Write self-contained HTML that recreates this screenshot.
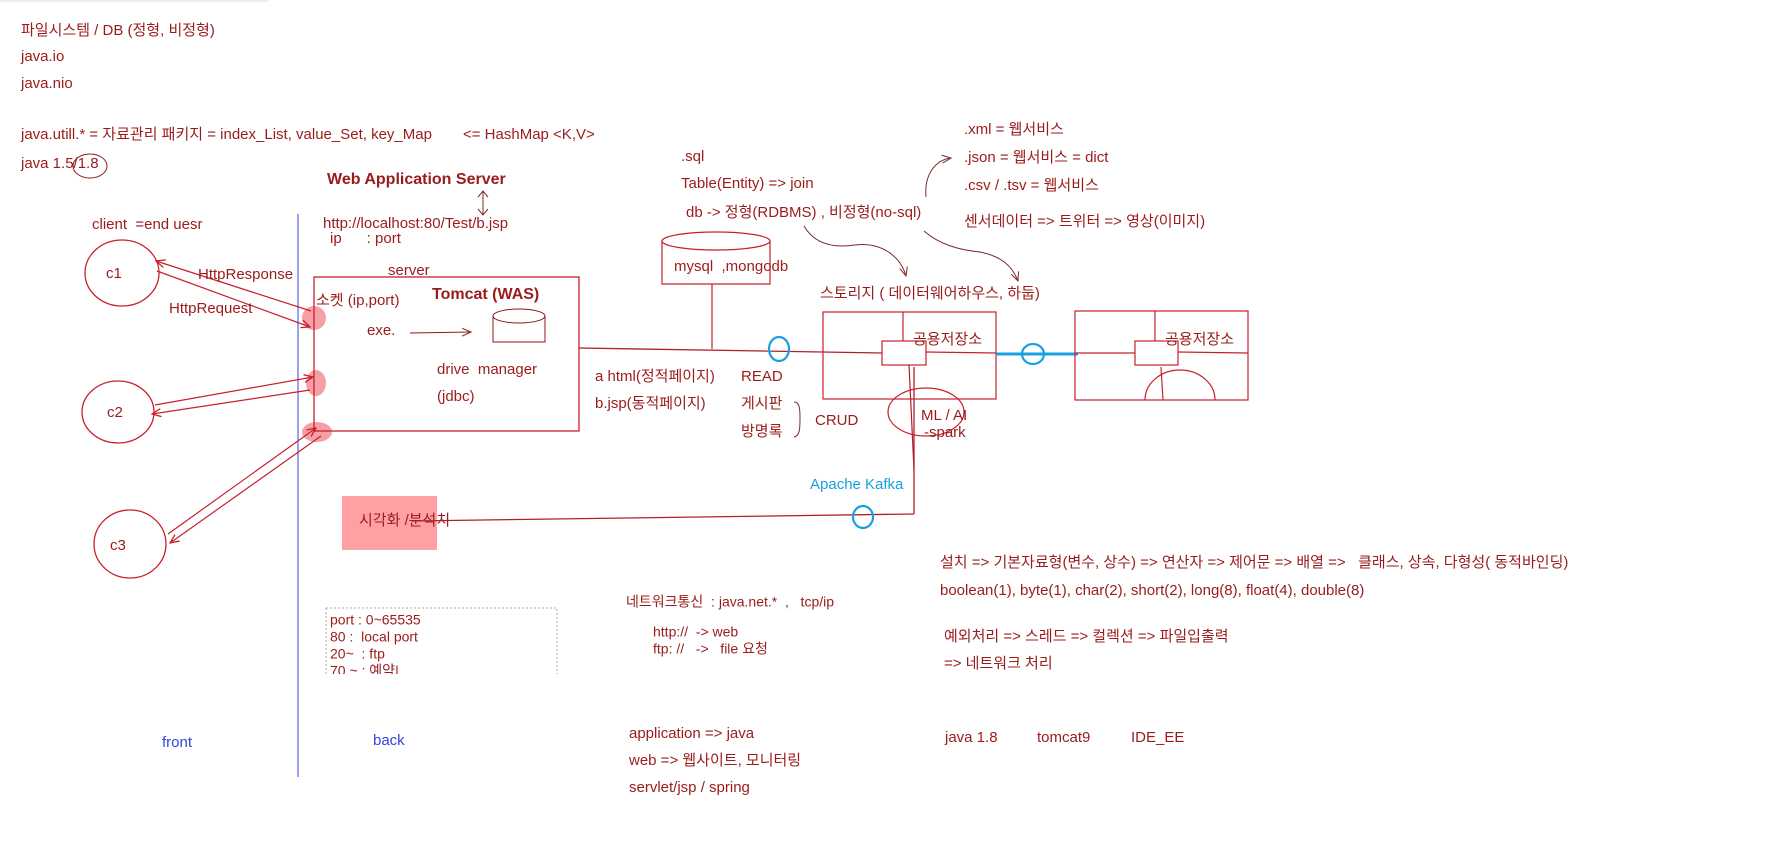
<!DOCTYPE html>
<html><head><meta charset="utf-8"><style>
html,body{margin:0;padding:0;background:#fff;}
svg{display:block;}
text{font-family:"Liberation Sans","Noto Sans CJK KR","NanumGothic",sans-serif;font-size:15px;fill:#9a1b1b;dominant-baseline:middle;}
</style></head><body>
<svg width="1778" height="864" viewBox="0 0 1778 864" xmlns="http://www.w3.org/2000/svg">
<defs>
<marker id="ah" markerWidth="10" markerHeight="10" refX="9" refY="5" orient="auto" markerUnits="userSpaceOnUse"><path d="M0,1 L9,5 L0,9" fill="none" stroke="#c8202a" stroke-width="1.3"/></marker>
<marker id="ah2" markerWidth="10" markerHeight="10" refX="9" refY="5" orient="auto" markerUnits="userSpaceOnUse"><path d="M0,1 L9,5 L0,9" fill="none" stroke="#7a2a2a" stroke-width="1"/></marker>
</defs>
<line x1="0" y1="1" x2="268" y2="1" stroke="#ddd" stroke-width="1"/>
<!-- top left text -->
<text x="21" y="31">파일시스템 / DB (정형, 비정형)</text>
<text x="21" y="57">java.io</text>
<text x="21" y="84">java.nio</text>
<text x="21" y="135">java.utill.* = 자료관리 패키지 = index_List, value_Set, key_Map</text>
<text x="463" y="135">&lt;= HashMap &lt;K,V&gt;</text>
<text x="21" y="164">java 1.5/1.8</text>
<ellipse cx="90" cy="166" rx="17" ry="12" fill="none" stroke="#8a1a1a" stroke-width="1"/>
<text x="327" y="180" style="font-weight:bold;font-size:16px">Web Application Server</text>
<path d="M483,192 L483,214 M478,197 L483,191 L488,197 M478,209 L483,215 L488,209" fill="none" stroke="#7a2a2a" stroke-width="1"/>
<text x="323" y="224">http://localhost:80/Test/b.jsp</text>
<text x="330" y="239">ip&#160;&#160;&#160;&#160;&#160;&#160;: port</text>
<text x="92" y="225">client&#160;&#160;=end uesr</text>
<!-- blue divider -->
<line x1="298" y1="214" x2="298" y2="777" stroke="#3344dd" stroke-width="1"/>
<text x="162" y="743" style="fill:#3344dd">front</text>
<text x="373" y="741" style="fill:#3344dd">back</text>
<!-- clients -->
<ellipse cx="122" cy="273" rx="37" ry="33" fill="none" stroke="#c8202a" stroke-width="1.3"/>
<text x="106" y="274">c1</text>
<ellipse cx="118" cy="412" rx="36" ry="31" fill="none" stroke="#c8202a" stroke-width="1.3"/>
<text x="107" y="413">c2</text>
<ellipse cx="130" cy="544" rx="36" ry="34" fill="none" stroke="#c8202a" stroke-width="1.3"/>
<text x="110" y="546">c3</text>
<!-- sockets -->
<ellipse cx="314" cy="318" rx="12" ry="12" fill="#f5a0a6"/>
<ellipse cx="316" cy="383" rx="10" ry="13" fill="#f5a0a6"/>
<ellipse cx="317" cy="432" rx="15" ry="10" fill="#f5a0a6"/>
<!-- Tomcat box -->
<rect x="314" y="277" width="265" height="154" fill="none" stroke="#c8202a" stroke-width="1.3"/>
<text x="388" y="271">server</text>
<text x="316" y="301">소켓 (ip,port)</text>
<text x="432" y="295" style="font-weight:bold;font-size:16px">Tomcat (WAS)</text>
<text x="367" y="331">exe.</text>
<line x1="410" y1="333" x2="471" y2="332" stroke="#8a1a1a" stroke-width="1" marker-end="url(#ah2)"/>
<path d="M493,316 L493,342 L545,342 L545,316" fill="none" stroke="#8a1a1a" stroke-width="1"/>
<ellipse cx="519" cy="316" rx="26" ry="7" fill="none" stroke="#8a1a1a" stroke-width="1"/>
<text x="437" y="370">drive&#160;&#160;manager</text>
<text x="437" y="397">(jdbc)</text>
<!-- client arrows -->
<line x1="311" y1="311" x2="156" y2="261" stroke="#c8202a" stroke-width="1.2" marker-end="url(#ah)"/>
<line x1="157" y1="271" x2="310" y2="327" stroke="#c8202a" stroke-width="1.2" marker-end="url(#ah)"/>
<text x="198" y="275">HttpResponse</text>
<text x="169" y="309">HttpRequest</text>
<line x1="155" y1="405" x2="313" y2="377" stroke="#c8202a" stroke-width="1.2" marker-end="url(#ah)"/>
<line x1="310" y1="390" x2="152" y2="414" stroke="#c8202a" stroke-width="1.2" marker-end="url(#ah)"/>
<line x1="168" y1="534" x2="316" y2="428" stroke="#c8202a" stroke-width="1.2" marker-end="url(#ah)"/>
<line x1="321" y1="436" x2="170" y2="543" stroke="#c8202a" stroke-width="1.2" marker-end="url(#ah)"/>
<!-- visualization -->
<rect x="342" y="496" width="95" height="54" fill="#ffa0a4"/>
<text x="359" y="521">시각화 /분석치</text>
<line x1="412" y1="521" x2="914" y2="514" stroke="#b0202a" stroke-width="1.3"/>
<line x1="914" y1="514" x2="914" y2="367" stroke="#b0202a" stroke-width="1.3"/>
<text x="810" y="485" style="fill:#1aa0e0">Apache Kafka</text>
<ellipse cx="863" cy="517" rx="10" ry="11" fill="none" stroke="#1aa0e0" stroke-width="2.2"/>
<!-- db section -->
<text x="681" y="157">.sql</text>
<text x="681" y="184">Table(Entity) =&gt; join</text>
<text x="686" y="213">db -&gt; 정형(RDBMS) , 비정형(no-sql)</text>
<text x="964" y="130">.xml = 웹서비스</text>
<text x="964" y="158">.json = 웹서비스 = dict</text>
<text x="964" y="186">.csv / .tsv = 웹서비스</text>
<text x="964" y="222">센서데이터 =&gt; 트위터 =&gt; 영상(이미지)</text>
<path d="M926,197 C924,175 935,160 951,158" fill="none" stroke="#7a2a2a" stroke-width="1" marker-end="url(#ah2)"/>
<path d="M804,226 C815,245 835,248 855,245 C880,242 900,255 906,276" fill="none" stroke="#7a2a2a" stroke-width="1" marker-end="url(#ah2)"/>
<path d="M924,231 C940,245 960,250 980,252 C1000,256 1012,265 1018,281" fill="none" stroke="#7a2a2a" stroke-width="1" marker-end="url(#ah2)"/>
<path d="M662,241 L662,284 L770,284 L770,241" fill="none" stroke="#c8202a" stroke-width="1.2"/>
<ellipse cx="716" cy="241" rx="54" ry="9" fill="none" stroke="#c8202a" stroke-width="1.2"/>
<text x="674" y="267">mysql&#160;&#160;,mongodb</text>
<line x1="712" y1="284" x2="712" y2="349" stroke="#c8202a" stroke-width="1.2"/>
<line x1="579" y1="348" x2="882" y2="353" stroke="#b0202a" stroke-width="1.3"/>
<ellipse cx="779" cy="349" rx="10" ry="12" fill="none" stroke="#1aa0e0" stroke-width="2.2"/>
<text x="820" y="294">스토리지 ( 데이터웨어하우스, 하둡)</text>
<rect x="823" y="312" width="173" height="87" fill="none" stroke="#c8202a" stroke-width="1.2"/>
<rect x="882" y="341" width="44" height="24" fill="none" stroke="#c8202a" stroke-width="1.2"/>
<line x1="903" y1="312" x2="903" y2="341" stroke="#c8202a" stroke-width="1.2"/>
<line x1="926" y1="352" x2="996" y2="353" stroke="#c8202a" stroke-width="1.2"/>
<text x="913" y="340">공용저장소</text>
<line x1="909" y1="365" x2="914" y2="470" stroke="#b0202a" stroke-width="1.2"/>
<ellipse cx="926" cy="412" rx="38" ry="24" fill="none" stroke="#c8202a" stroke-width="1.2"/>
<text x="921" y="416">ML / AI</text>
<text x="924" y="433">-spark</text>
<line x1="996" y1="354" x2="1078" y2="354" stroke="#1aa0e0" stroke-width="3"/>
<ellipse cx="1033" cy="354" rx="11" ry="10" fill="none" stroke="#1aa0e0" stroke-width="2.2"/>
<rect x="1075" y="311" width="173" height="89" fill="none" stroke="#c8202a" stroke-width="1.2"/>
<rect x="1135" y="341" width="43" height="24" fill="none" stroke="#c8202a" stroke-width="1.2"/>
<line x1="1155" y1="311" x2="1155" y2="341" stroke="#c8202a" stroke-width="1.2"/>
<line x1="1075" y1="353" x2="1135" y2="353" stroke="#c8202a" stroke-width="1.2"/>
<line x1="1178" y1="352" x2="1248" y2="353" stroke="#c8202a" stroke-width="1.2"/>
<text x="1165" y="340">공용저장소</text>
<line x1="1161" y1="367" x2="1163" y2="400" stroke="#c8202a" stroke-width="1.2"/>
<path d="M1145,400 A35,30 0 0 1 1215,400" fill="none" stroke="#c8202a" stroke-width="1.2"/>
<text x="595" y="377">a html(정적페이지)</text>
<text x="741" y="377">READ</text>
<text x="595" y="404">b.jsp(동적페이지)</text>
<text x="741" y="404">게시판</text>
<text x="741" y="432">방명록</text>
<path d="M794,402 C800,402 800,410 800,418 C800,428 800,436 794,437" fill="none" stroke="#7a2a2a" stroke-width="1"/>
<text x="815" y="421">CRUD</text>
<!-- port box -->
<rect x="326" y="608" width="231" height="70" fill="none" stroke="#999" stroke-width="0.8" stroke-dasharray="2,2"/>
<g style="font-size:14px">
<text x="330" y="621" style="font-size:14px">port : 0~65535</text>
<text x="330" y="638" style="font-size:14px">80 :&#160;&#160;local port</text>
<text x="330" y="655" style="font-size:14px">20~&#160;&#160;: ftp</text>
<text x="330" y="672" style="font-size:14px">70 ~ : 예약|</text>
</g>
<rect x="300" y="674" width="270" height="20" fill="#fff"/>
<text x="626" y="603" style="font-size:14px">네트워크통신&#160;&#160;: java.net.*&#160;&#160;,&#160;&#160;&#160;tcp/ip</text>
<text x="653" y="633" style="font-size:14px">http://&#160;&#160;-&gt; web</text>
<text x="653" y="650" style="font-size:14px">ftp: //&#160;&#160;&#160;-&gt;&#160;&#160;&#160;file 요청</text>
<text x="629" y="734">application =&gt; java</text>
<text x="629" y="761">web =&gt; 웹사이트, 모니터링</text>
<text x="629" y="788">servlet/jsp / spring</text>
<text x="940" y="563">설치 =&gt; 기본자료형(변수, 상수) =&gt; 연산자 =&gt; 제어문 =&gt; 배열 =&gt;&#160;&#160;&#160;클래스, 상속, 다형성( 동적바인딩)</text>
<text x="940" y="591">boolean(1), byte(1), char(2), short(2), long(8), float(4), double(8)</text>
<text x="944" y="637">예외처리 =&gt; 스레드 =&gt; 컬렉션 =&gt; 파일입출력</text>
<text x="944" y="664">=&gt; 네트워크 처리</text>
<text x="945" y="738">java 1.8</text>
<text x="1037" y="738">tomcat9</text>
<text x="1131" y="738">IDE_EE</text>
</svg>
</body></html>
